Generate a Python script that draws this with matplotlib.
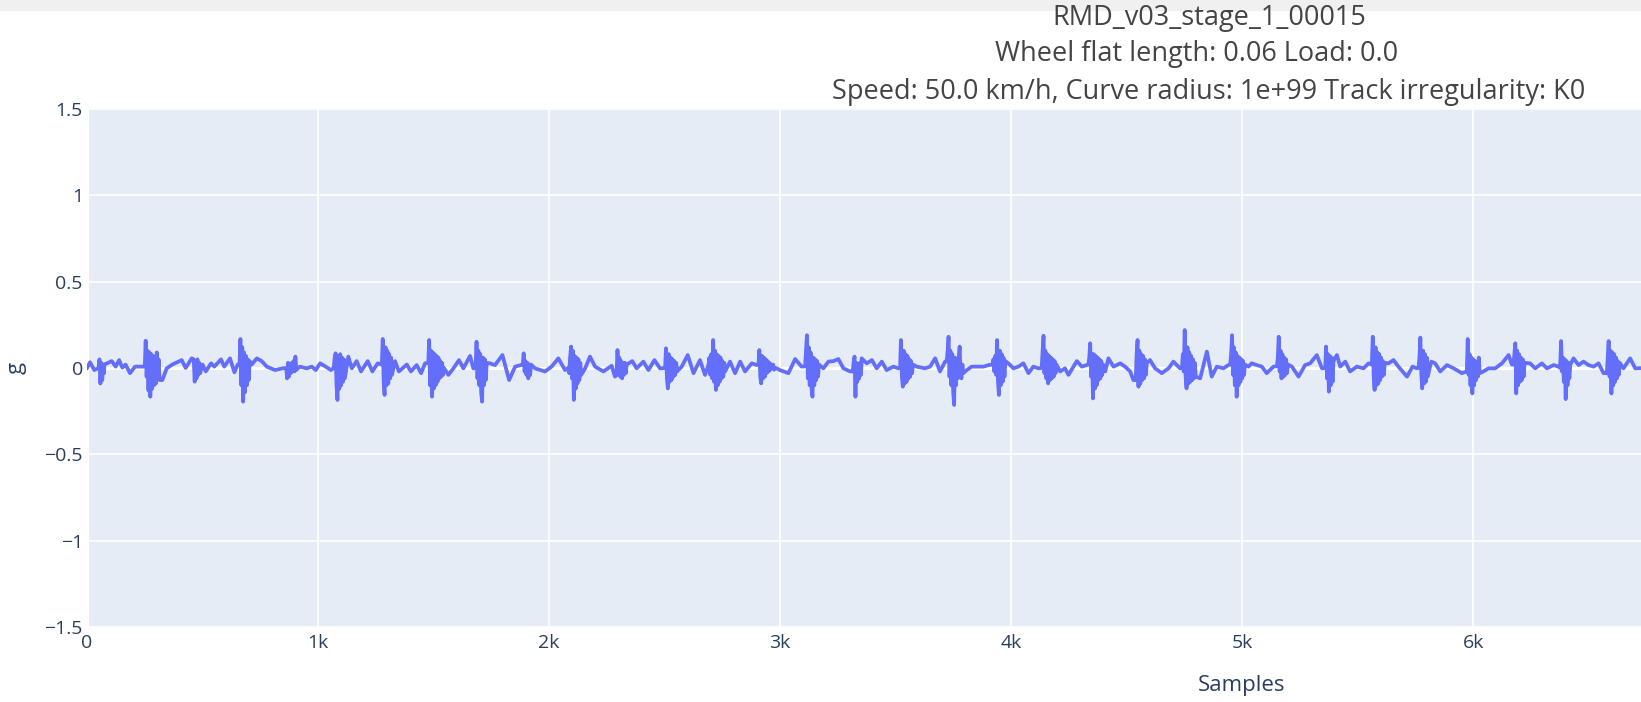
import matplotlib
matplotlib.use('Agg')
import matplotlib.pyplot as plt
from matplotlib.patches import Rectangle
import numpy as np

plt.rcParams['font.family'] = ['Open Sans', 'DejaVu Sans']

# ---------------- text ----------------
title_lines = ["RMD_v03_stage_1_00015",
               "Wheel flat length: 0.06 Load: 0.0",
               "Speed: 50.0 km/h, Curve radius: 1e+99 Track irregularity: K0"]
x_label = "Samples"
y_label = "g"
x_ticks = [0, 1000, 2000, 3000, 4000, 5000, 6000]
x_tick_labels = ["0", "1k", "2k", "3k", "4k", "5k", "6k"]
y_ticks = [-1.5, -1.0, -0.5, 0.0, 0.5, 1.0, 1.5]
y_tick_labels = ["\u22121.5", "\u22121", "\u22120.5", "0", "0.5", "1", "1.5"]
x_range = [0, 6726]
y_range = [-1.5, 1.5]

# ---------------- data ----------------
# slow baseline wiggle between impacts: (sample, g)
base_samples = [0, 13, 32, 75, 107, 124, 139, 153, 167, 186, 208, 244,
                326, 345, 369, 410, 427, 453,
                500, 514, 537, 551, 580, 594, 619, 638, 652,
                713, 735, 756, 778, 814, 846,
                922, 951, 973, 990, 1009, 1033, 1056,
                1131, 1146, 1167, 1186, 1215, 1235, 1258,
                1333, 1350, 1384, 1402, 1427, 1446, 1463,
                1564, 1586, 1610, 1629, 1658, 1672,
                1744, 1766, 1798, 1827, 1853, 1878,
                1939, 1982, 2011, 2040, 2069,
                2156, 2177, 2199, 2235, 2271, 2285,
                2360, 2379, 2408, 2430, 2456, 2480,
                2574, 2600, 2625, 2653, 2675,
                2783, 2805, 2827, 2848, 2877, 2899,
                2999, 3036, 3065, 3093,
                3187, 3209, 3231, 3252, 3274, 3303,
                3353, 3375, 3397, 3418, 3440, 3461, 3490, 3512,
                3591, 3627, 3649, 3671, 3692, 3714,
                3808, 3829, 3851, 3880, 3902,
                3988, 4010, 4031, 4053, 4075, 4096, 4118,
                4212, 4233, 4248, 4284, 4306, 4327,
                4407, 4421, 4443, 4472, 4493, 4515, 4529,
                4601, 4623, 4652, 4681, 4702, 4731,
                4818, 4847, 4868, 4890, 4919, 4940,
                5027, 5041, 5063, 5085, 5106, 5135,
                5215, 5244, 5272, 5294, 5323, 5345,
                5410, 5424, 5446, 5467, 5496, 5525, 5547,
                5633, 5655, 5676, 5713, 5737, 5756,
                5818, 5835, 5857, 5886, 5915, 5951,
                6044, 6066, 6095, 6124, 6153, 6167,
                6246, 6268, 6297, 6319, 6348, 6369,
                6434, 6456, 6477, 6499, 6521, 6542, 6564,
                6650, 6679, 6701, 6740]
base_g = [0.0, 0.033, -0.012, 0.02, 0.04, 0.008, 0.046, 0.002, 0.02, -0.03, 0.008, 0.008,
          -0.07, -0.002, 0.02, 0.046, 0.0, 0.056,
          0.02, -0.02, 0.027, 0.008, 0.05, 0.008, 0.056, -0.025, 0.02,
          0.02, 0.056, 0.04, 0.008, -0.012, -0.002,
          0.008, -0.002, 0.008, -0.012, 0.027, 0.008, -0.012,
          0.066, -0.002, 0.04, -0.02, 0.04, -0.02, 0.027,
          0.04, -0.02, 0.02, -0.02, 0.017, -0.03, 0.027,
          -0.04, -0.002, 0.046, -0.002, 0.07, -0.002,
          0.027, 0.017, 0.075, -0.07, 0.008, 0.017,
          -0.002, -0.02, 0.008, 0.056, -0.012,
          -0.002, 0.066, 0.008, -0.02, 0.013, -0.05,
          0.04, -0.002, 0.037, -0.012, 0.046, -0.002,
          0.008, 0.075, -0.03, 0.046, -0.04,
          0.037, -0.03, 0.037, -0.02, 0.027, 0.017,
          -0.012, -0.03, 0.052, 0.008,
          -0.002, 0.037, 0.04, 0.052, -0.002, -0.02,
          0.056, 0.027, 0.046, -0.002, 0.037, -0.012, 0.008, -0.002,
          0.008, -0.002, 0.008, 0.056, -0.02, 0.037,
          -0.012, 0.008, 0.008, 0.008, 0.017,
          0.027, -0.002, 0.008, 0.027, -0.03, 0.008, -0.002,
          -0.02, -0.002, -0.04, 0.04, 0.008, 0.017,
          -0.02, 0.056, 0.008, 0.027, 0.008, -0.02, -0.07,
          0.046, -0.002, -0.03, -0.002, 0.037, -0.002,
          -0.06, 0.095, -0.05, 0.008, -0.002, 0.017,
          0.008, 0.027, 0.017, 0.008, -0.03, 0.008,
          0.008, -0.05, 0.017, 0.027, 0.075, -0.002,
          0.075, 0.008, 0.037, -0.02, 0.008, -0.002, 0.027,
          0.027, 0.046, 0.008, -0.05, 0.008, -0.002,
          0.037, 0.027, -0.02, 0.017, -0.002, -0.03,
          -0.02, -0.002, -0.002, 0.027, 0.075, 0.02,
          0.027, -0.002, 0.027, -0.002, 0.017, 0.008,
          0.056, 0.017, 0.037, 0.017, 0.008, 0.027, -0.03,
          -0.002, 0.056, -0.002, 0.0]

# wheel-flat impact bursts: start sample and successive vertex values (g)
burst_step = 4
burst_starts = [50, 250, 462, 660, 862, 1068, 1276, 1477, 1682, 1886, 2083,
                2292, 2502, 2690, 2906, 3108, 3314, 3519, 3721, 3919, 4132,
                4334, 4539, 4739, 4948, 5150, 5359, 5561, 5763, 5972, 6174,
                6376, 6578]
burst_values = [
    [0.0, 0.05, -0.09, 0.03, -0.07, 0.02, -0.03],
    [0.01, 0.158, -0.05, 0.10, -0.13, 0.09, -0.166, 0.08, -0.12, 0.07, -0.10, 0.06, -0.09, 0.09, -0.06, 0.05, -0.07],
    [0.05, -0.079, 0.04, -0.06, 0.05, -0.04, 0.03, -0.03],
    [0.02, 0.168, -0.10, 0.12, -0.195, 0.09, -0.14, 0.07, -0.10, 0.05, -0.07, 0.04],
    [0.0, -0.06, 0.03, -0.05, 0.02, -0.03, 0.03, -0.02, 0.04, -0.02, 0.066, -0.01],
    [0.0, 0.06, 0.085, -0.10, -0.185, 0.07, -0.12, 0.08, -0.10, 0.06, -0.08, 0.05, -0.06],
    [0.02, 0.168, -0.08, -0.156, 0.12, -0.10, 0.10, -0.09, 0.08, -0.06, 0.06, -0.04],
    [0.03, 0.162, -0.10, 0.10, -0.166, 0.09, -0.12, 0.08, -0.10, 0.07, -0.08, 0.06, -0.06, 0.04, -0.05, 0.03, -0.04, 0.0],
    [0.0, 0.152, -0.06, 0.10, -0.10, 0.08, -0.14, -0.195, 0.06, -0.10, 0.05, -0.07, 0.03],
    [0.02, 0.085, -0.02, 0.04, -0.04, 0.03, -0.06, 0.02, -0.04, 0.02],
    [0.0, -0.03, 0.06, 0.124, -0.06, 0.10, -0.185, 0.07, -0.12, 0.06, -0.09, 0.05, -0.07, 0.03, -0.04],
    [-0.04, 0.104, -0.02, 0.06, -0.05, 0.04, -0.06, 0.03, -0.04, 0.03, -0.03, 0.02],
    [0.0, 0.114, -0.06, -0.118, 0.08, -0.08, 0.06, -0.07, 0.05, -0.05, 0.04, -0.04, 0.03, -0.02],
    [0.02, 0.06, -0.04, 0.08, -0.06, 0.162, -0.08, 0.10, -0.127, 0.08, -0.10, 0.07, -0.08, 0.06, -0.06, 0.04, -0.05, 0.03, -0.02],
    [0.02, 0.104, -0.05, -0.089, 0.07, -0.06, 0.06, -0.05, 0.05, -0.03, 0.04, -0.02, 0.03, -0.01, 0.02, 0.0, 0.02, -0.01, 0.0, 0.0],
    [0.01, 0.10, 0.19, -0.06, 0.12, -0.10, 0.09, -0.12, -0.166, 0.06, -0.10, 0.05, -0.07, 0.04, -0.05, 0.02],
    [-0.02, 0.03, 0.066, -0.166, 0.03, -0.08, 0.02, -0.06, 0.03, -0.04],
    [0.0, 0.162, -0.05, -0.108, 0.10, -0.09, 0.08, -0.08, 0.07, -0.06, 0.05, -0.05, 0.04, -0.03, 0.02],
    [0.04, 0.10, 0.181, -0.05, 0.10, -0.10, 0.08, -0.14, -0.214, 0.06, -0.10, 0.05, -0.06, 0.06, 0.124, -0.04, -0.06, 0.02, -0.03],
    [0.02, 0.05, -0.02, 0.07, -0.04, 0.162, -0.08, -0.156, 0.10, -0.10, 0.08, -0.08, 0.06, -0.05, 0.04],
    [0.0, 0.10, 0.187, -0.03, 0.10, -0.06, 0.08, -0.089, 0.07, -0.07, 0.06, -0.06, 0.05, -0.05, 0.04, -0.03, 0.02],
    [0.02, 0.06, 0.143, -0.05, 0.08, -0.176, 0.08, -0.12, 0.07, -0.10, 0.06, -0.07, 0.05, -0.06, 0.04, -0.04, 0.02],
    [-0.07, 0.08, 0.162, -0.108, 0.10, -0.09, 0.08, -0.07, 0.07, -0.06, 0.05, -0.04, 0.03],
    [0.0, 0.08, -0.02, 0.22, -0.05, -0.118, 0.12, -0.09, 0.09, -0.08, 0.07, -0.07, 0.05, -0.06, 0.03, -0.05],
    [0.02, 0.08, 0.19, -0.04, 0.12, -0.10, 0.09, -0.166, 0.07, -0.10, 0.06, -0.08, 0.05, -0.06, 0.04, -0.04, 0.02],
    [0.01, 0.06, 0.181, -0.02, 0.10, -0.06, 0.08, -0.05, 0.06, -0.04, 0.05, -0.03, 0.02],
    [0.0, 0.124, -0.06, 0.08, -0.137, 0.07, -0.10, 0.06, -0.08, 0.04],
    [0.02, 0.181, -0.05, -0.127, 0.12, -0.10, 0.09, -0.09, 0.08, -0.07, 0.06, -0.05, 0.04, -0.04, 0.03],
    [0.0, 0.06, 0.176, -0.03, -0.118, 0.10, -0.09, 0.08, -0.08, 0.06, -0.05],
    [-0.02, 0.168, -0.04, 0.08, -0.10, 0.06, -0.147, 0.05, -0.10, 0.04, -0.07, 0.03, -0.05, 0.06, -0.03],
    [0.02, 0.08, 0.143, -0.147, 0.10, -0.10, 0.08, -0.08, 0.06, -0.07, 0.05, -0.05, 0.03],
    [0.0, 0.156, -0.02, 0.06, -0.08, 0.05, -0.18, 0.04, -0.10, 0.03, -0.06, 0.02],
    [-0.03, 0.06, 0.156, -0.05, 0.10, -0.147, 0.09, -0.10, 0.08, -0.08, 0.06, -0.06, 0.04, -0.04, 0.03],
]

# ---------------- assemble series ----------------
bx, by, spans = [], [], []
for st, vals in zip(burst_starts, burst_values):
    xs = [st + burst_step * i for i in range(len(vals))]
    spans.append((xs[0], xs[-1]))
    bx.extend(xs)
    by.extend(vals)
keep = [not any(a <= s <= b for a, b in spans) for s in base_samples]
sx = [s for s, k in zip(base_samples, keep) if k] + bx
sy = [v for v, k in zip(base_g, keep) if k] + by
order = np.argsort(sx, kind='stable')
samples = np.array(sx)[order]
values = np.array(sy)[order]

# ---------------- figure ----------------
W, H, DPI = 1641, 702, 100
fig = plt.figure(figsize=(W / DPI, H / DPI), dpi=DPI, facecolor='white')
fig.patches.append(Rectangle((0, 1 - 11 / H), 1, 11 / H, transform=fig.transFigure,
                             facecolor='#f0f0f0', edgecolor='none', zorder=0))

left, right, top, bottom = 87, 1641, 109, 627
ax = fig.add_axes([left / W, 1 - bottom / H, (right - left) / W, (bottom - top) / H])
ax.set_facecolor('#E5ECF6')
for sp in ax.spines.values():
    sp.set_visible(False)

ax.set_xlim(*x_range)
ax.set_ylim(*y_range)
ax.set_xticks(x_ticks)
ax.set_xticklabels(x_tick_labels)
ax.set_yticks(y_ticks)
ax.set_yticklabels(y_tick_labels)
ax.tick_params(axis='both', length=0, labelsize=14, labelcolor='#2a3f5f')
ax.tick_params(axis='x', pad=5)
ax.tick_params(axis='y', pad=3)
ax.set_axisbelow(True)
ax.grid(True, color='white', linewidth=1.2)
ax.axhline(0, color='white', linewidth=2.3, zorder=1.5)
ax.axvline(0, color='white', linewidth=2.3, zorder=1.5)

ax.plot(samples, values, color='#636efa', linewidth=2.7, zorder=3,
        solid_joinstyle='round', clip_on=True)

# titles
title_centers = [1209, 1197, 1209]
title_ys = [18, 54, 92]
for txt, cx, cy in zip(title_lines, title_centers, title_ys):
    fig.text(cx / W, 1 - cy / H, txt, ha='center', va='center',
             fontsize=19.5, color='#444444')

fig.text(1242 / W, 1 - 686 / H, x_label, ha='center', va='center',
         fontsize=16, color='#2a3f5f')
fig.text(16 / W, 1 - 368 / H, y_label, ha='center', va='center',
         rotation=90, fontsize=16, color='#2a3f5f')

fig.savefig('out.png', dpi=DPI, facecolor='white')
